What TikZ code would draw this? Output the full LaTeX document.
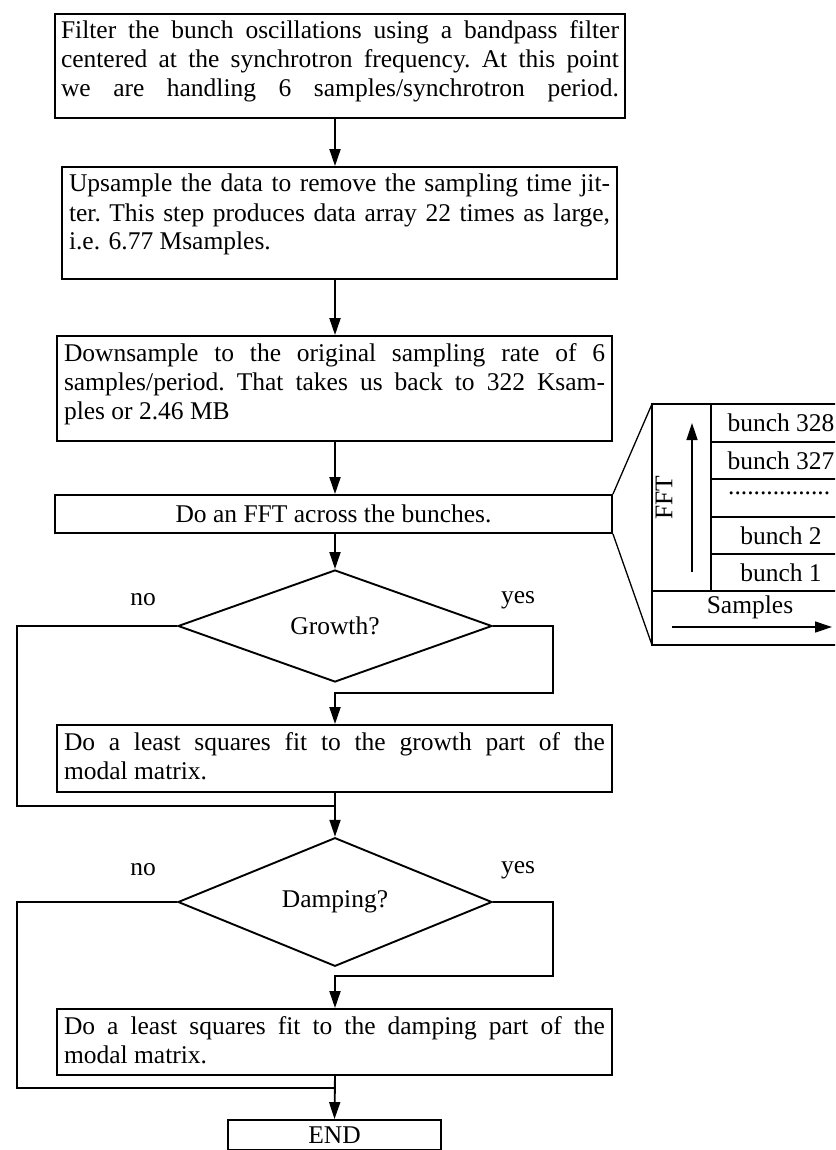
\documentclass[tikz,border=0pt]{standalone}
\usepackage{fontspec}
\setmainfont{Liberation Serif}
\usetikzlibrary{arrows.meta,shapes.geometric}
\newcommand\jl[2]{\hbox to #1{\spaceskip=.25em plus 1fil\relax\xspaceskip=.25em plus 1fil\relax #2}}
\newcommand\bx[3]{\parbox[c][#2][t]{#1}{\rule{0pt}{25pt}#3}}
\begin{document}
\begin{tikzpicture}[x=1pt,y=-1pt,
  font=\fontsize{25.5}{29}\selectfont,
  line/.style={line width=1.9pt},
  arr/.style={line width=1.9pt,-{Triangle[length=17pt,width=11pt]}},
  box/.style={draw,line width=1.9pt,rectangle,inner sep=0pt},
  dec/.style={draw,line width=1.9pt,diamond,inner sep=0pt,minimum width=314pt},
  thin/.style={line width=1.3pt},
  lbl/.style={inner sep=0pt}]
\useasboundingbox (0,0) rectangle (835,1150);
\clip (0,0) rectangle (835,1150);
\coordinate (c) at (335,0);
\coordinate (L) at (17,0);
\coordinate (R) at (553,0);

\node[box,minimum width=570pt] (b1) at (340,66)
 {\bx{558pt}{104pt}{\jl{558pt}{Filter the bunch oscillations using a bandpass filter}\\
  \jl{558pt}{centered at the synchrotron frequency. At this point}\\
  \jl{558pt}{we are handling 6 samples/synchrotron period.}}};
\node[box,minimum width=555pt] (b2) at (339.5,223)
 {\bx{541pt}{112pt}{\jl{541pt}{Upsample the data to remove the sampling time jit-}\\
  \jl{541pt}{ter. This step produces data array 22 times as large,}\\
  i.e. 6.77 Msamples.}};
\node[box,minimum width=555pt] (b3) at (334.5,388.5)
 {\bx{541pt}{105pt}{\jl{541pt}{Downsample to the original sampling rate of 6}\\
  \jl{541pt}{samples/period. That takes us back to 322 Ksam-}\\
  ples or 2.46 MB}};
\node[box,minimum width=557pt,minimum height=38pt,align=center] (b4) at (333.5,514)
 {Do an FFT across the bunches.};
\node[dec,minimum height=112pt] (d1) at (335,626) {Growth?};
\node[lbl] (no1) at (143,600) {no};
\node[lbl] (yes1) at (518,600) {yes};
\node[box,minimum width=555pt] (b5) at (334.5,758.5)
 {\bx{541pt}{67pt}{\jl{541pt}{Do a least squares fit to the growth part of the}\\
  modal matrix.}};
\node[dec,minimum height=110pt] (d2) at (335,902) {Damping?};
\node[lbl] (no2) at (143,870) {no};
\node[lbl] (yes2) at (518,870) {yes};
\node[box,minimum width=555pt] (b6) at (334.5,1042)
 {\bx{541pt}{66pt}{\jl{541pt}{Do a least squares fit to the damping part of the}\\
  modal matrix.}};
\node[box,minimum width=213pt,minimum height=30pt,inner sep=0pt,align=center] (end) at (334.5,1135) {END};

\coordinate (j1) at (335,806);
\coordinate (y1) at (335,693);
\coordinate (j2) at (335,1088);
\coordinate (y2) at (335,976);

\draw[arr] (b1.south -| c) -- (b2.north -| c);
\draw[arr] (b2.south -| c) -- (b3.north -| c);
\draw[arr] (b3.south -| c) -- (b4.north -| c);
\draw[arr] (b4.south -| c) -- (d1.north);
\draw[line] (d1.west) -- (d1.west -| L) |- (j1);
\draw[arr] (d1.east) -- (d1.east -| R) |- (y1) -- (b5.north -| c);
\draw[arr] (b5.south -| c) -- (d2.north);
\draw[line] (d2.west) -- (d2.west -| L) |- (j2);
\draw[arr] (d2.east) -- (d2.east -| R) |- (y2) -- (b6.north -| c);
\draw[arr] (b6.south -| c) -- (end.north);

% FFT panel
\coordinate (pTL) at (652,404);
\coordinate (pBL) at (652,645);
\draw[thin] (pTL) rectangle (900,645);
\draw[thin] (711,404) -- (711,591);
\draw[thin] (652,591) -- (900,591);
\foreach \yy in {442,479,517,554} \draw[thin] (711,\yy) -- (900,\yy);
\node[lbl] (r1) at (781,423) {bunch 328};
\node[lbl] (r2) at (781,460.5) {bunch 327};
\node[lbl,anchor=west] (r3) at (728,493) {................};
\node[lbl] (r4) at (781,535.5) {bunch 2};
\node[lbl] (r5) at (781,572.5) {bunch 1};
\node[lbl] (smp) at (750,607) {Samples};
\coordinate (sa) at (672,627);
\coordinate (sb) at (832,627);
\draw[thin,-{Triangle[length=17pt,width=11pt]}] (sa) -- (sb);
\coordinate (fa) at (692,572);
\coordinate (fb) at (692,423);
\draw[thin,-{Triangle[length=17pt,width=11pt]}] (fa) -- (fb);
\node[lbl,rotate=90] (fft) at (664,498) {FFT};
\draw[thin] (b4.north east) -- (pTL);
\draw[thin] (b4.south east) -- (pBL);
\end{tikzpicture}
\end{document}
